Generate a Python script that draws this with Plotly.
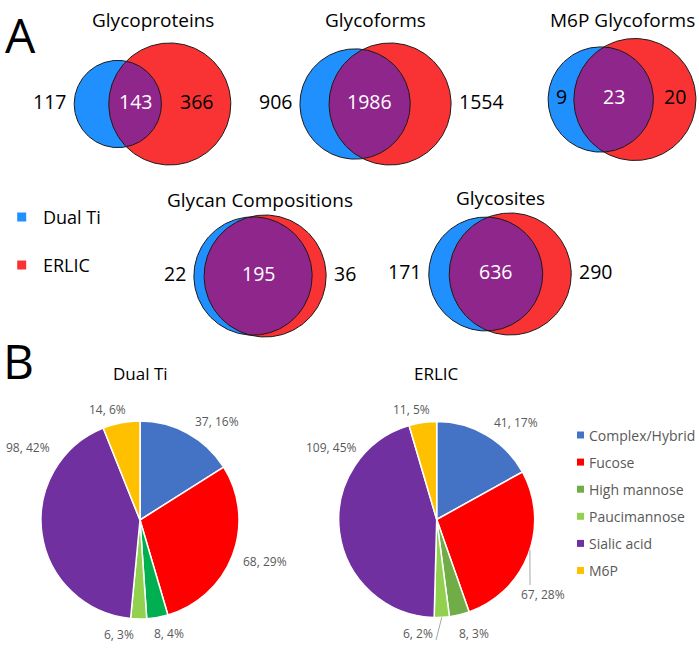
import numpy as np
import plotly.graph_objects as go

# ---------------- data ----------------
venn_titles = ["Glycoproteins", "Glycoforms", "M6P Glycoforms", "Glycan Compositions", "Glycosites"]
dual_only = [117, 906, 9, 22, 171]
both = [143, 1986, 23, 195, 636]
erlic_only = [366, 1554, 20, 36, 290]
venn_legend = ["Dual Ti", "ERLIC"]

pie_categories = ["Complex/Hybrid", "Fucose", "High mannose", "Paucimannose", "Sialic acid", "M6P"]
dual_counts = [37, 68, 8, 6, 98, 14]
dual_pct = [16, 29, 4, 3, 42, 6]
erlic_counts = [41, 67, 8, 6, 109, 11]
erlic_pct = [17, 28, 3, 2, 45, 5]

# ---------------- layout / style ----------------
W, H = 699, 652
FONT = "Open Sans"
BLUE, RED, PURPLE = "#2190FF", "#F93333", "#8F268B"
R_MAX = 61.0
venn_cx = [152.5, 375.5, 622, 260, 500]
venn_cy = [104, 104, 99.5, 276, 274]
title_y = [20, 20, 20, 200, 198]
left_mode = ["out", "out", "in", "out", "out"]
right_mode = ["in", "out", "in", "out", "out"]

dual_colors = ["#4472C4", "#FF0000", "#00B050", "#92D050", "#7030A0", "#FFC000"]
erlic_colors = ["#4472C4", "#FF0000", "#70AD47", "#92D050", "#7030A0", "#FFC000"]
legend_colors = ["#4472C4", "#FF0000", "#70AD47", "#92D050", "#7030A0", "#FFC000"]

pie_specs = [
    dict(name="Dual Ti", cx=140, cy=520, r=99, counts=dual_counts, pct=dual_pct, colors=dual_colors,
         label_xy=[(217, 421), (265, 561), (169, 633), (119, 634), (28, 447), (107, 409)]),
    dict(name="ERLIC", cx=436.7, cy=519.5, r=98, counts=erlic_counts, pct=erlic_pct, colors=erlic_colors,
         label_xy=[(516, 422), (543, 594), (474, 633), (418, 633), (331, 447), (411, 409)]),
]

fig = go.Figure()
annotations = []
shapes = []


def ann(x, y, text, size, color="#000", xanchor="center", yanchor="middle", family=FONT):
    annotations.append(dict(x=x, y=y, xref="x", yref="y", text=text, showarrow=False,
                            xanchor=xanchor, yanchor=yanchor,
                            font=dict(family=family, size=size, color=color)))


def lens_area(r1, r2, d):
    if d >= r1 + r2:
        return 0.0
    if d <= abs(r1 - r2):
        return np.pi * min(r1, r2) ** 2
    a1 = r1 ** 2 * np.arccos((d * d + r1 * r1 - r2 * r2) / (2 * d * r1))
    a2 = r2 ** 2 * np.arccos((d * d + r2 * r2 - r1 * r1) / (2 * d * r2))
    k = 0.5 * np.sqrt((-d + r1 + r2) * (d + r1 - r2) * (d - r1 + r2) * (d + r1 + r2))
    return a1 + a2 - k


for i, title in enumerate(venn_titles):
    n1 = dual_only[i] + both[i]
    n2 = erlic_only[i] + both[i]
    k = R_MAX ** 2 / max(n1, n2)
    r1, r2 = np.sqrt(n1 * k), np.sqrt(n2 * k)
    target = np.pi * k * both[i]
    lo, hi = abs(r1 - r2) + 1e-6, r1 + r2
    for _ in range(80):
        mid = 0.5 * (lo + hi)
        if lens_area(r1, r2, mid) > target:
            lo = mid
        else:
            hi = mid
    d = 0.5 * (lo + hi)
    span = r1 + d + r2
    left = venn_cx[i] - span / 2
    c1 = left + r1
    c2 = c1 + d
    cy = venn_cy[i]
    t = np.linspace(0, 2 * np.pi, 240)
    # circles
    for c, r, col in [(c1, r1, BLUE), (c2, r2, RED)]:
        fig.add_trace(go.Scatter(x=c + r * np.cos(t), y=cy + r * np.sin(t), mode="lines",
                                 fill="toself", fillcolor=col, line=dict(width=0),
                                 hoverinfo="skip", showlegend=False))
    # lens
    a = (d * d + r1 * r1 - r2 * r2) / (2 * d)
    h = np.sqrt(max(r1 * r1 - a * a, 0))
    th1 = np.arctan2(h, a)
    th2 = np.arctan2(h, d - a)
    g1 = np.linspace(-th1, th1, 120)
    g2 = np.linspace(np.pi - th2, np.pi + th2, 120)
    lx = np.concatenate([c1 + r1 * np.cos(g1), c2 + r2 * np.cos(g2)])
    ly = np.concatenate([cy + r1 * np.sin(g1), cy + r2 * np.sin(g2)])
    fig.add_trace(go.Scatter(x=lx, y=ly, mode="lines", fill="toself", fillcolor=PURPLE,
                             line=dict(width=0), hoverinfo="skip", showlegend=False))
    # outlines
    for c, r in [(c1, r1), (c2, r2)]:
        fig.add_trace(go.Scatter(x=c + r * np.cos(t), y=cy + r * np.sin(t), mode="lines",
                                 line=dict(width=1, color="#1a1a1a"),
                                 hoverinfo="skip", showlegend=False))
    # texts
    ann(venn_cx[i], title_y[i], title, 19)
    ty = cy - 3
    lens_l, lens_r = c2 - r2, c1 + r1
    if left_mode[i] == "out":
        ann(c1 - r1 - 6, ty, str(dual_only[i]), 19.5, xanchor="right")
    else:
        ann((c1 - r1 + lens_l) / 2, ty, str(dual_only[i]), 19.5)
    ann((lens_l + lens_r) / 2, ty, str(both[i]), 19.5, color="#ffffff")
    if right_mode[i] == "out":
        ann(c2 + r2 + 6, ty, str(erlic_only[i]), 19.5, xanchor="left")
    else:
        ann((lens_r + c2 + r2) / 2, ty, str(erlic_only[i]), 19.5)

# Venn legend
venn_leg_y = [217, 265]
fig.add_trace(go.Scatter(x=[21.7, 21.7], y=venn_leg_y, mode="markers",
                         marker=dict(symbol="square", size=9, color=[BLUE, RED]),
                         hoverinfo="skip", showlegend=False))
for name, y in zip(venn_legend, venn_leg_y):
    ann(41, y, name, 18, xanchor="left")

# Panel letters
ann(3, 34, "A", 48, xanchor="left")
ann(1, 360, "B", 48, xanchor="left")

# Pies
for sp in pie_specs:
    cx, cy, r = sp["cx"], sp["cy"], sp["r"]
    fig.add_trace(go.Pie(labels=pie_categories, values=sp["counts"], sort=False,
                         direction="clockwise", rotation=0,
                         marker=dict(colors=sp["colors"], line=dict(color="white", width=1.5)),
                         textinfo="none", hoverinfo="label+value+percent", showlegend=False,
                         domain=dict(x=[(cx - r) / W, (cx + r) / W],
                                     y=[1 - (cy + r) / H, 1 - (cy - r) / H])))
    ann(cx, 373, sp["name"], 17)
    for j, (lx_, ly_) in enumerate(sp["label_xy"]):
        ann(lx_, ly_, f"{sp['counts'][j]}, {sp['pct'][j]}%", 12, color="#595959")

# ERLIC leader lines (from slice edge to label)
es = pie_specs[1]
tot = sum(es["counts"])
cum = np.cumsum([0] + es["counts"])
for idx, ang_deg, end in [(1, 108, (530, 585)), (3, None, (436, 640))]:
    if ang_deg is None:
        ang_deg = 360 * (cum[idx] + es["counts"][idx] / 2) / tot
    ang = np.deg2rad(ang_deg)
    sx = es["cx"] + es["r"] * np.sin(ang)
    sy = es["cy"] - es["r"] * np.cos(ang)
    shapes.append(dict(type="line", xref="x", yref="y", x0=sx, y0=sy, x1=end[0], y1=end[1],
                       line=dict(color="#A6A6A6", width=1)))

# Pie legend
leg_y0, leg_dy = 435, 27.1
leg_ys = [leg_y0 + k * leg_dy for k in range(len(pie_categories))]
fig.add_trace(go.Scatter(x=[580.5] * len(pie_categories), y=leg_ys, mode="markers",
                         marker=dict(symbol="square", size=7, color=legend_colors),
                         hoverinfo="skip", showlegend=False))
for name, y in zip(pie_categories, leg_ys):
    ann(587, y, name, 14, color="#595959", xanchor="left")

fig.update_layout(
    width=W, height=H, margin=dict(l=0, r=0, t=0, b=0),
    paper_bgcolor="white", plot_bgcolor="white", showlegend=False,
    xaxis=dict(range=[0, W], visible=False, fixedrange=True, domain=[0, 1]),
    yaxis=dict(range=[H, 0], visible=False, fixedrange=True, domain=[0, 1]),
    annotations=annotations, shapes=shapes,
    font=dict(family=FONT),
)

fig.write_html("out.html", config={"displayModeBar": False},
               post_script="document.body.style.margin='0';document.body.style.overflow='hidden';")
